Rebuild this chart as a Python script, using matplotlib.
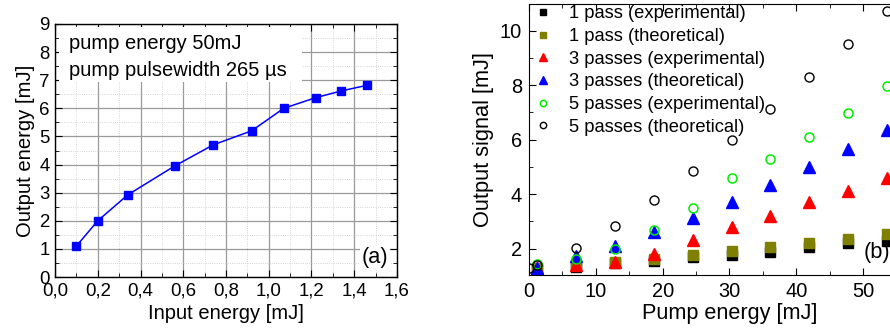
import matplotlib
matplotlib.use("Agg")
import matplotlib.pyplot as plt
from matplotlib.ticker import MultipleLocator, FixedLocator, FixedFormatter
from matplotlib.patches import Rectangle

plt.rcParams['font.family'] = ['Liberation Sans', 'DejaVu Sans']

# ---- panel (a) data ----
input_energy = [0.10, 0.20, 0.34, 0.56, 0.74, 0.92, 1.07, 1.22, 1.34, 1.46]
output_energy = [1.10, 2.00, 2.92, 3.95, 4.70, 5.20, 6.00, 6.38, 6.62, 6.82]
a_xticks = [0.0, 0.2, 0.4, 0.6, 0.8, 1.0, 1.2, 1.4, 1.6]
a_xticklabels = ["0,0", "0,2", "0,4", "0,6", "0,8", "1,0", "1,2", "1,4", "1,6"]

# ---- panel (b) data ----
pump = [1.2, 7.0, 12.8, 18.7, 24.5, 30.3, 36.1, 41.9, 47.8, 53.6]
pass1_exp = [1.24, 1.34, 1.46, 1.56, 1.68, 1.77, 1.89, 2.05, 2.20, 2.29]
pass1_theo = [1.28, 1.40, 1.52, 1.61, 1.77, 1.93, 2.07, 2.22, 2.37, 2.54]
pass3_exp = [1.28, 1.40, 1.52, 1.80, 2.30, 2.80, 3.21, 3.70, 4.10, 4.61]
pass3_theo = [1.30, 1.72, 2.10, 2.62, 3.13, 3.72, 4.33, 4.99, 5.64, 6.35]
pass5_exp = [1.43, 1.62, 2.00, 2.70, 3.50, 4.59, 5.29, 6.10, 6.98, 7.98]
pump5_theo = [0.0, 1.2, 7.0, 12.8, 18.7, 24.5, 30.3, 36.1, 41.9, 47.8, 53.6]
pass5_theo = [1.28, 1.38, 2.04, 2.84, 3.80, 4.86, 5.98, 7.14, 8.31, 9.51, 10.72]

fig = plt.figure(figsize=(8.9, 3.32), dpi=100)

# ================= panel (a) =================
ax1 = fig.add_axes([55/890, (332-277)/332, 342/890, 253/332])
ax1.set_xlim(0, 1.6)
ax1.set_ylim(0, 9)
ax1.xaxis.set_major_locator(FixedLocator(a_xticks))
ax1.xaxis.set_major_formatter(FixedFormatter(a_xticklabels))
ax1.xaxis.set_minor_locator(MultipleLocator(0.1))
ax1.yaxis.set_major_locator(MultipleLocator(1))
ax1.yaxis.set_minor_locator(MultipleLocator(0.5))
ax1.set_axisbelow(True)
ax1.grid(which='major', color='#9a9a9a', linewidth=0.9)
ax1.grid(which='minor', color='#c8c8c8', linewidth=0.6, linestyle=':')
ax1.tick_params(which='both', direction='in', top=True, right=True, labelsize=13.4)
ax1.tick_params(which='major', length=5, pad=4)
ax1.tick_params(which='minor', length=3)
ax1.add_patch(Rectangle((0.02, 6.95), 1.135, 1.93, facecolor='white', edgecolor='none', zorder=1))
ax1.plot(input_energy, output_energy, color='#0000ff', marker='s', markersize=6,
         linewidth=1.1, zorder=3)
ax1.text(0.065, 8.32, "pump energy 50mJ", fontsize=14.5, va='center', ha='left', zorder=4)
ax1.text(0.065, 7.36, "pump pulsewidth 265 \u00b5s", fontsize=14.5, va='center', ha='left', zorder=4)
ax1.text(1.497, 0.68, "(a)", fontsize=15.7, va='center', ha='center', zorder=4,
         bbox=dict(facecolor='white', edgecolor='none', pad=1.0))
ax1.set_xlabel("Input energy [mJ]", fontsize=14.5, labelpad=3)
ax1.set_ylabel("Output energy [mJ]", fontsize=14.6, labelpad=3)
for s in ax1.spines.values():
    s.set_linewidth(1.0)

# ================= panel (b) =================
ax2 = fig.add_axes([529/890, (332-275.3)/332, 401/890, 271.3/332])
ax2.set_xlim(0, 60)
ax2.set_ylim(1.02, 10.98)
ax2.xaxis.set_major_locator(MultipleLocator(10))
ax2.xaxis.set_minor_locator(MultipleLocator(5))
ax2.yaxis.set_major_locator(FixedLocator([2, 4, 6, 8, 10]))
ax2.yaxis.set_minor_locator(FixedLocator([1, 3, 5, 7, 9]))
ax2.tick_params(which='both', direction='in', top=True, right=True, labelsize=14.4)
ax2.tick_params(which='major', length=5, pad=5)
ax2.tick_params(which='minor', length=3)

ax2.plot(pump, pass1_exp, linestyle='none', marker='s', markersize=6.5, color='black',
         label='1 pass (experimental)')
ax2.plot(pump, pass1_theo, linestyle='none', marker='s', markersize=6.5, color='#808000',
         label='1 pass (theoretical)')
ax2.plot(pump, pass3_exp, linestyle='none', marker='^', markersize=8, color='#ff0000',
         label='3 passes (experimental)')
ax2.plot(pump, pass3_theo, linestyle='none', marker='^', markersize=8, color='#0000ff',
         label='3 passes (theoretical)')
ax2.plot(pump, pass5_exp, linestyle='none', marker='o', markersize=6.5, markerfacecolor='none',
         markeredgecolor='#00ee00', markeredgewidth=1.1, label='5 passes (experimental)')
ax2.plot(pump5_theo, pass5_theo, linestyle='none', marker='o', markersize=6.5, markerfacecolor='none',
         markeredgecolor='black', markeredgewidth=1.0, label='5 passes (theoretical)')

ax2.legend(loc='upper left', frameon=False, fontsize=13.2, markerscale=0.7,
           handlelength=1.0, handletextpad=0.92, labelspacing=0.31,
           borderaxespad=0.0, borderpad=0.0, bbox_to_anchor=(0.0125, 0.995))
ax2.text(50.0, 1.84, "(b)", fontsize=15.7, va='center', ha='left')
ax2.set_xlabel("Pump energy [mJ]", fontsize=15.6, labelpad=1)
ax2.set_ylabel("Output signal [mJ]", fontsize=15.7, labelpad=4)

fig.savefig("out.png", dpi=100)
